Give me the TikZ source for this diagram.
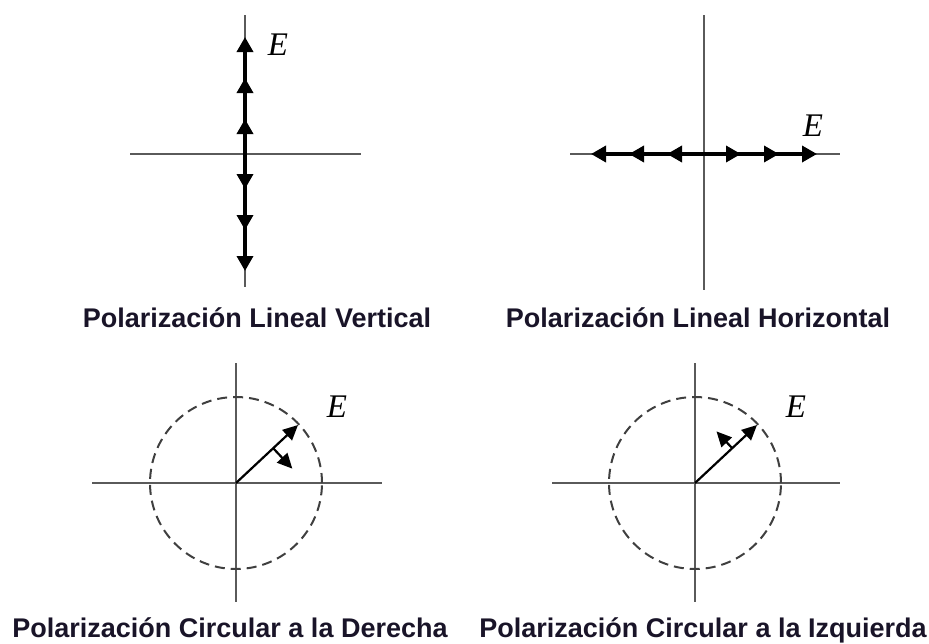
\documentclass[tikz,border=0pt]{standalone}
\usepackage{fontspec}
\setmainfont{Liberation Sans}
\newfontfamily\efont{Liberation Serif}
\usetikzlibrary{arrows.meta,calc}

\definecolor{axisgray}{RGB}{90,90,90}
\definecolor{textdark}{RGB}{25,20,40}

\tikzstyle{axis}=[draw=axisgray, line width=2pt]
\tikzstyle{field}=[draw=black, line width=3.5pt, -{Triangle[width=16pt,length=15pt]}]
\tikzstyle{rotor}=[draw=black, line width=2.2pt, -{Triangle[width=14pt,length=15pt]}]
\tikzstyle{orbit}=[draw=axisgray!70!black, line width=2pt, dash pattern=on 10pt off 6pt]
\tikzstyle{title}=[font=\fontsize{27}{30}\selectfont\bfseries, text=textdark, inner sep=0pt, anchor=base]
\tikzstyle{efield}=[font=\fontsize{33}{33}\selectfont\efont\itshape, inner sep=0pt]

\begin{document}
\begin{tikzpicture}[x=1pt, y=-1pt]
\useasboundingbox (0,0) rectangle (929,643);
%begin lineal vertical
\coordinate (v0) at (245,154);
\coordinate (vn) at (245,15);
\coordinate (vs) at (245,287);
\coordinate (vw) at (130,154);
\coordinate (ve) at (361,154);
\draw[axis] (vn) -- (vs);
\draw[axis] (vw) -- (ve);
\foreach \d in {35,76,117} {
    \coordinate (vu\d) at ($(v0)+(0,-\d)$);
    \coordinate (vd\d) at ($(v0)+(0,\d)$);
    \draw[field] (v0) -- (vu\d);
    \draw[field] (v0) -- (vd\d);
}
\node[efield] (ev) at (278,45) {E};
\node[title] (tv) at (257,327) {Polarización Lineal Vertical};
%end lineal vertical
%begin lineal horizontal
\coordinate (h0) at (704,154);
\coordinate (hn) at (704,15);
\coordinate (hs) at (704,290);
\coordinate (hw) at (570,154);
\coordinate (he) at (840,154);
\draw[axis] (hn) -- (hs);
\draw[axis] (hw) -- (he);
\foreach \d in {37,75,113} {
    \coordinate (hl\d) at ($(h0)+(-\d,0)$);
    \coordinate (hr\d) at ($(h0)+(\d,0)$);
    \draw[field] (h0) -- (hl\d);
    \draw[field] (h0) -- (hr\d);
}
\node[efield] (eh) at (813,126) {E};
\node[title] (th) at (698,327) {Polarización Lineal Horizontal};
%end lineal horizontal
%begin circular derecha
\coordinate (r0) at (236,483);
\coordinate (rn) at (236,363);
\coordinate (rs) at (236,602);
\coordinate (rw) at (92,483);
\coordinate (re) at (382,483);
\draw[axis] (rn) -- (rs);
\draw[axis] (rw) -- (re);
\draw[orbit] (r0) circle[radius=86pt];
\coordinate (rtip) at (298,425);
\coordinate (rmid) at ($(r0)!0.6!(rtip)$);
\coordinate (rturn) at ($(rmid)!28pt!-90:(rtip)$);
\draw[rotor] (r0) -- (rtip);
\draw[rotor] (rmid) -- (rturn);
\node[efield] (er) at (337,407) {E};
\node[title] (tr) at (230,637) {Polarización Circular a la Derecha};
%end circular derecha
%begin circular izquierda
\coordinate (l0) at (695,483);
\coordinate (ln) at (695,363);
\coordinate (ls) at (695,602);
\coordinate (lw) at (552,483);
\coordinate (le) at (840,483);
\draw[axis] (ln) -- (ls);
\draw[axis] (lw) -- (le);
\draw[orbit] (l0) circle[radius=86pt];
\coordinate (ltip) at (757,425);
\coordinate (lmid) at ($(l0)!0.6!(ltip)$);
\coordinate (lturn) at ($(lmid)!23pt!90:(ltip)$);
\draw[rotor] (l0) -- (ltip);
\draw[rotor] (lmid) -- (lturn);
\node[efield] (el) at (796,407) {E};
\node[title] (tl) at (703,637) {Polarización Circular a la Izquierda};
%end circular izquierda
\end{tikzpicture}
\end{document}
